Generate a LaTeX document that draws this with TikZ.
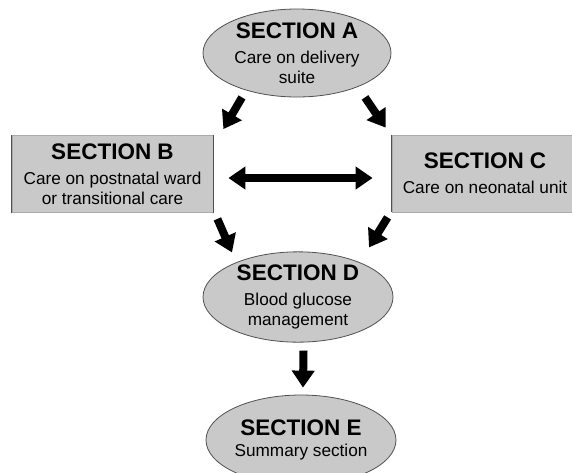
\documentclass[tikz,border=0pt]{standalone}
\usepackage{fontspec}
\setmainfont{Liberation Sans}
\usetikzlibrary{shapes.geometric,arrows.meta,calc}

\definecolor{boxgray}{RGB}{201,201,201}
\definecolor{edgegray}{RGB}{80,80,80}
\definecolor{lightedge}{RGB}{170,170,170}
\newcommand{\sectitle}[1]{{\fontsize{22.5}{24}\selectfont\bfseries #1}}

\begin{document}
\begin{tikzpicture}[x=1pt,y=-1pt,
                every node/.style={align=center,inner sep=0pt,font=\fontsize{17.2}{19.8}\selectfont},
                oval/.style={ellipse,draw=edgegray,line width=0.8pt,fill=boxgray,minimum width=190pt,minimum height=90pt},
                panel/.style={rectangle,draw=lightedge,line width=0.8pt,fill=boxgray,minimum height=77pt},
                side/.style={draw=edgegray,line width=1.4pt},
                fat/.style={line width=8pt,-{Triangle[length=17pt,width=22pt]}},
                fatboth/.style={line width=8pt,{Triangle[length=17pt,width=22pt]}-{Triangle[length=17pt,width=22pt]}}]
  \useasboundingbox (0,0) rectangle (572,472);
  \clip (0,0) rectangle (572,472);
  \node[oval,minimum width=188pt,minimum height=88pt] (a) at (297,53)
    {\sectitle{SECTION A}\\[5pt]Care on delivery\\suite};
  \node[panel,minimum width=201pt] (b) at (112.5,174)
    {\sectitle{SECTION B}\\[5pt]Care on postnatal ward\\or transitional care};
  \node[panel,minimum width=186pt] (c) at (485,173.5)
    {\sectitle{SECTION C}\\[5pt]Care on neonatal unit};
  \node[oval] (d) at (298,297)
    {\sectitle{SECTION D}\\[5pt]Blood glucose\\management};
  \node[oval] (e) at (301,440)
    {\sectitle{SECTION E}\\[1pt]Summary section};
  % darker left and right sides of the panels
  \draw[side] (b.north west) -- (b.south west);
  \draw[side] (b.north east) -- (b.south east);
  \draw[side] (c.north west) -- (c.south west);
  % block arrows
  \draw[fat] ($(a.south)+(-55,0)$) -- ($(b.north east)+(10,-6)$);
  \draw[fat] ($(a.south)+(68,0)$) -- ($(c.north west)+(-6,-7)$);
  \draw[fatboth] ($(b.east)+(15,4)$) -- ($(c.west)+(-19,4.5)$);
  \draw[fat] ($(b.south east)+(4,6)$) -- ($(d.north)+(-66,1)$);
  \draw[fat] ($(c.south west)+(-4,5)$) -- ($(d.north)+(71,-4)$);
  \draw[fat] ($(d.south)+(5.5,8)$) -- ($(e.north)+(2,-7)$);
\end{tikzpicture}
\end{document}
